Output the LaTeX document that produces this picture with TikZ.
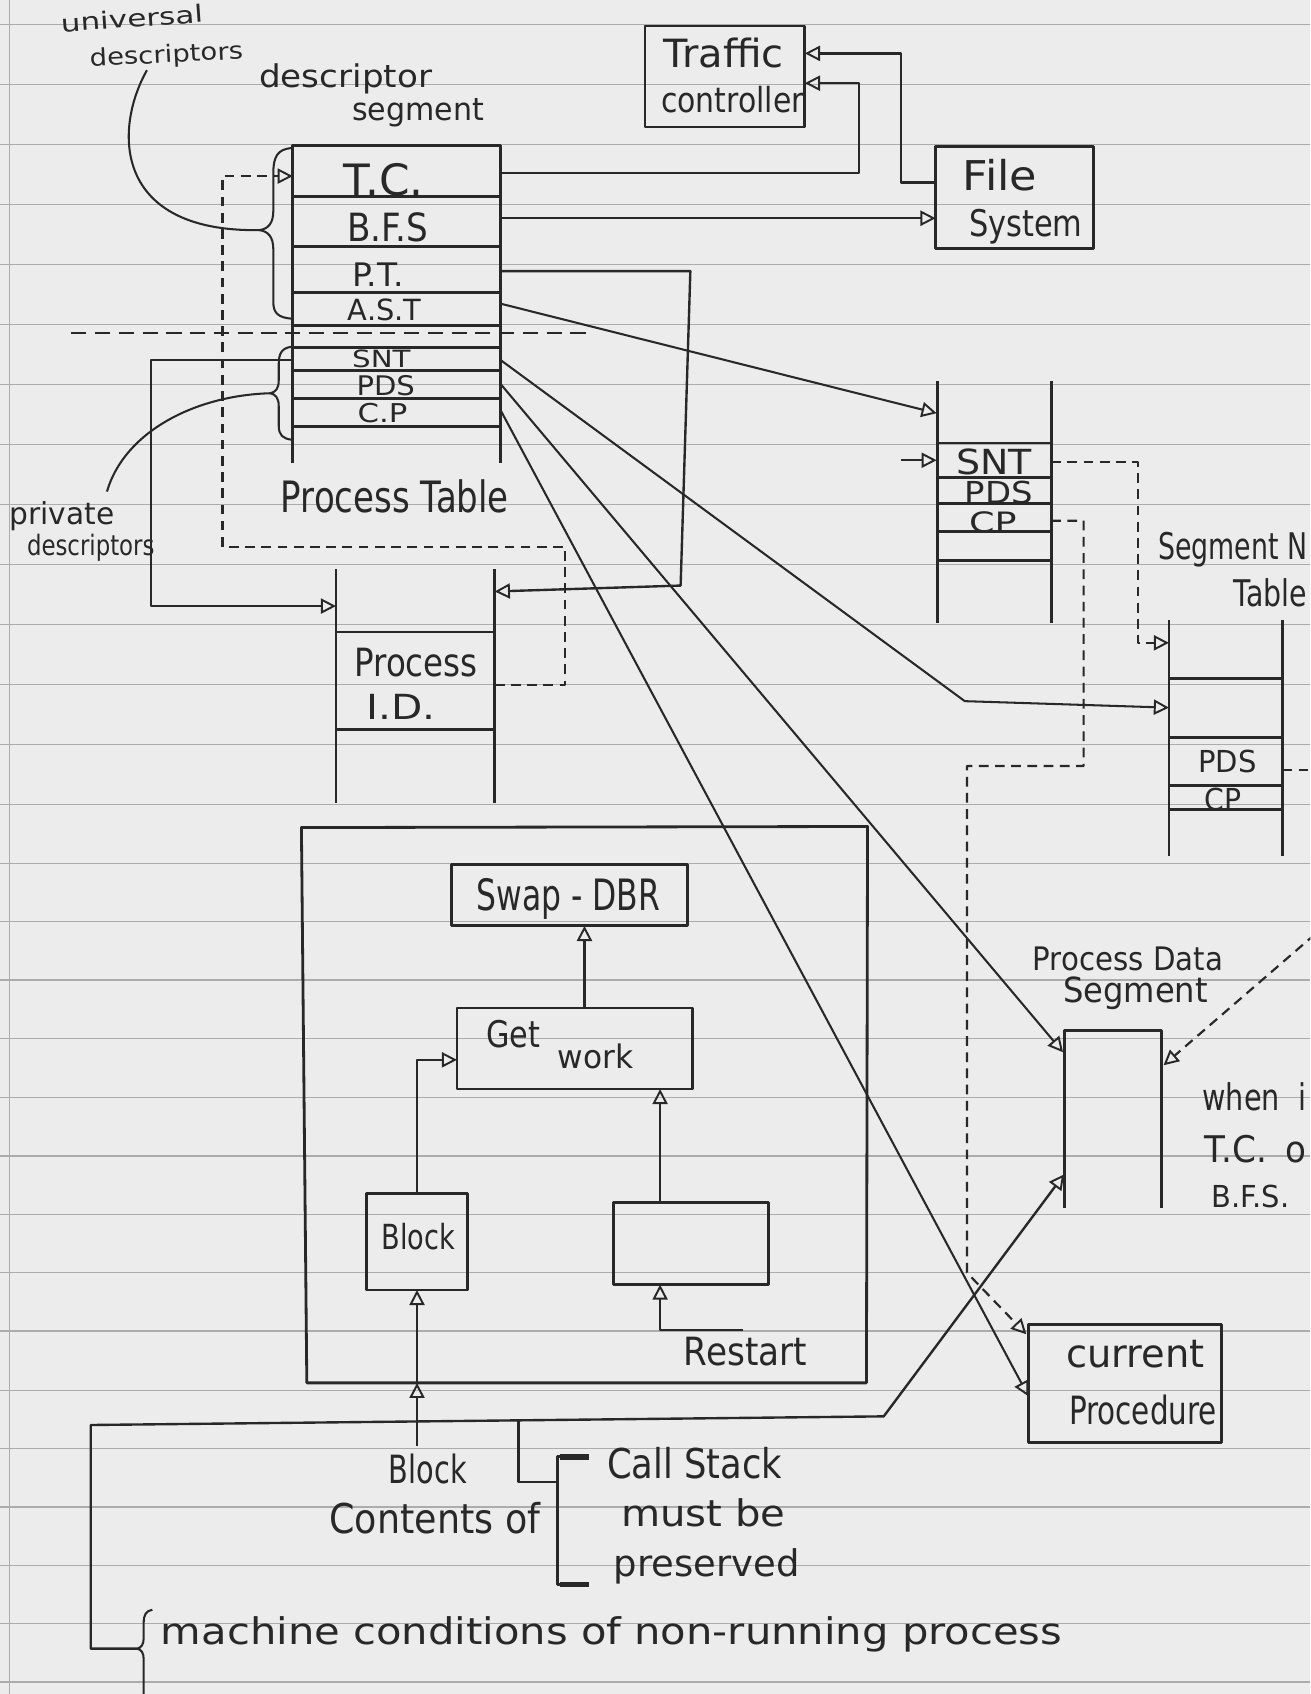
\documentclass[tikz,border=0pt]{standalone}
\usepackage{fontspec}
\setmainfont{DejaVu Sans}
\usepackage{graphicx}
\usetikzlibrary{arrows.meta}
\definecolor{paper}{RGB}{236,236,236}
\definecolor{inkc}{RGB}{40,40,40}
\definecolor{rulec}{RGB}{172,172,172}
\newcommand\hw[3]{\resizebox{#1pt}{\height}{\fontsize{#2pt}{#2pt}\selectfont #3}}
\begin{document}
\begin{tikzpicture}[x=0.5pt,y=-0.5pt,
  every node/.style={inner sep=0pt, outer sep=0pt, text=inkc},
  lw/.style={draw=inkc, line width=1.1pt},
  fine/.style={draw=inkc, line width=0.95pt},
  boxl/.style={draw=inkc, line width=1.3pt},
  dsh/.style={draw=inkc, line width=1pt, dash pattern=on 4.5pt off 3pt},
  arr/.style={-{Triangle[open,length=7pt,width=7pt,line width=0.9pt]}},
  rboxn/.style={draw=inkc, line width=1.3pt, rectangle, inner sep=0pt},
  rulel/.style={draw=rulec, line width=0.6pt},
  line join=round]

\fill[paper] (0,0) rectangle (1213,1568);
\useasboundingbox (0,0) rectangle (1213,1568);
\clip (0,0) rectangle (1213,1568);

% ruled notebook paper
\foreach \yy in {23,78.5,134,189.5,245,300.5,356,411.5,467,522.5,578,633.5,689,744.5,799,853,907,961,1016,1070,1124,1178,1232,1287,1341,1395,1449,1503,1557}
  \draw[rulel] (0,\yy) -- (1213,\yy);
\draw[rulel] (9,0) -- (9,1568);

% ---------- boxes (nodes) ----------
\node[rboxn, minimum width=74pt, minimum height=46.75pt] (tc) at (671,70.75) {};
\node[rboxn, minimum width=73pt, minimum height=47pt] (fs) at (939,182.7) {};
\node[rboxn, minimum width=109pt, minimum height=28.5pt] (swap) at (527,828.5) {};
\node[rboxn, minimum width=109pt, minimum height=37.5pt] (getw) at (532,970.5) {};
\node[rboxn, minimum width=46.5pt, minimum height=44.5pt] (blk) at (386,1149.5) {};
\node[rboxn, minimum width=71.5pt, minimum height=38pt] (emp) at (639.5,1151) {};
\node[rboxn, minimum width=89.5pt, minimum height=54.5pt] (cur) at (1041.5,1280.5) {};

% outer box round the scheduler
\draw[boxl] (279,766) -- (803,765) -- (802,1280) -- (284,1280) -- cycle;

% descriptor segment
\draw[boxl] (271,429) -- (271,135) -- (463,135) -- (463,429);
\foreach \yy in {182,228,271,301,322,343,369,395} \draw[boxl] (271,\yy) -- (463,\yy);

% process id table
\draw[boxl] (311,527) -- (311,743);
\draw[boxl] (458,527) -- (458,743);
\foreach \yy in {585,675} \draw[boxl] (311,\yy) -- (458,\yy);

% A.S.T. segment
\draw[boxl] (867.6,353) -- (867.6,576.6);
\draw[boxl] (973,353) -- (973,576.6);
\foreach \yy in {410,442,466,492,518.6} \draw[boxl] (867.6,\yy) -- (973,\yy);

% segment name table
\draw[boxl] (1082,574) -- (1082,792);
\draw[boxl] (1187,574) -- (1187,792);
\foreach \yy in {628,683,727,749} \draw[boxl] (1082,\yy) -- (1187,\yy);

% process data segment
\draw[boxl] (985,1118) -- (985,954) -- (1075,954) -- (1075,1118);

% ---------- named connection points ----------
\coordinate (dsTC) at (463,160);
\coordinate (tcIn2) at (745,77);
\coordinate (fsOut) at (866,169);
\coordinate (tcIn1) at (745,49.4);
\coordinate (dsBFS) at (463,202);
\coordinate (fsIn) at (866,202);
\coordinate (dsAST) at (463,281);
\coordinate (astIn) at (867,382.5);
\coordinate (dsSNT) at (463,333);
\coordinate (sntIn) at (1082,655);
\coordinate (dsPDS) at (463,355);
\coordinate (pdsIn) at (984,974);
\coordinate (dsCP) at (463,379);
\coordinate (curIn) at (952,1292.5);
\coordinate (dsPT) at (463,251);
\coordinate (pidR) at (458,547.5);
\coordinate (dsSNTl) at (271,333);
\coordinate (pidL) at (311,561);
\coordinate (pidR2) at (458,634);
\coordinate (dsTCl) at (271,163);
\coordinate (shortStart) at (834,426);
\coordinate (astSNT) at (867,426);
\coordinate (astSNTr) at (973,428);
\coordinate (snmIn) at (1082,595);
\coordinate (astCPr) at (973,482);
\coordinate (curIn2) at (950,1235);
\coordinate (snmPDS) at (1187,712.5);
\coordinate (offR) at (1240,712.5);
\coordinate (offTR) at (1240,845);
\coordinate (pdsInR) at (1077,986);
\coordinate (braceTip) at (127,1526);
\coordinate (pdsInL) at (985,1087);
\coordinate (csTop) at (480,1314.7);
\coordinate (brk) at (516,1372);
\coordinate (blkFoot) at (386,1338);
\coordinate (outerB) at (386,1280);
\coordinate (gwIn) at (423,981);
\coordinate (empTop) at (611,1113);
\coordinate (gwBot) at (611,1008);
\coordinate (gwTop) at (541,933);
\coordinate (swBot) at (541,857);
\coordinate (rsEnd) at (688,1231);
\coordinate (empBot) at (611,1189);
\coordinate (divA) at (66,308);
\coordinate (divB) at (545,308);

% ---------- connectors ----------
\draw[lw,arr] (dsTC) -- (795,160) -- (795,77) -- (tcIn2);
\draw[lw,arr] (fsOut) -- (834,169) -- (834,49.4) -- (tcIn1);
\draw[lw,arr] (dsBFS) -- (fsIn);
\draw[fine,arr] (dsAST) -- (astIn);
\draw[fine,arr] (dsSNT) -- (893,649) -- (sntIn);
\draw[fine,arr] (dsPDS) -- (pdsIn);
\draw[fine,arr] (dsCP) -- (curIn);
\draw[lw,arr] (dsPT) -- (639,251) -- (630,542) -- (pidR);
\draw[lw,arr] (dsSNTl) -- (140,333) -- (140,561) -- (pidL);
\draw[dsh,arr] (pidR2) -- (523,634) -- (523,506) -- (206,506) -- (206,163) -- (dsTCl);
\draw[dsh, dash pattern=on 7pt off 4pt] (divA) -- (divB);
\draw[lw,arr] (shortStart) -- (astSNT);
\draw[dsh,arr] (astSNTr) -- (1053,428) -- (1053,595) -- (snmIn);
\draw[dsh,arr] (astCPr) -- (1003,482) -- (1003,709) -- (895,709) -- (895,1178) -- (curIn2);
\draw[dsh] (snmPDS) -- (offR);
\draw[dsh,arr] (offTR) -- (pdsInR);
\draw[lw,arr] (braceTip) -- (84,1526) -- (84,1319) -- (818,1311) -- (pdsInL);
\draw[lw] (csTop) -- (480,1372) -- (brk);
\draw[draw=inkc, line width=1.3pt] (540,1348.5) -- (516,1348.5) -- (516,1466.5) -- (540,1466.5);
\draw[draw=inkc, line width=2.6pt] (518,1348.5) -- (545,1348.5);
\draw[draw=inkc, line width=2.6pt] (518,1466.5) -- (545,1466.5);
\draw[lw,arr] (blkFoot) -- (outerB);
\draw[lw,arr] (outerB) -- (blk.south);
\draw[lw,arr] (blk.north) -- (386,981) -- (gwIn);
\draw[lw,arr] (empTop) -- (gwBot);
\draw[lw,arr] (gwTop) -- (swBot);
\draw[lw,arr] (rsEnd) -- (611,1231) -- (empBot);

% braces and pointer curves
\draw[fine] (270,137) .. controls (257,138) and (253,145) .. (253,160) -- (253,195)
  .. controls (253,207) and (248,212) .. (240,213)
  .. controls (248,214) and (253,219) .. (253,231) -- (253,280)
  .. controls (253,290) and (258,294) .. (270,295);
\draw[fine] (270,321) .. controls (261,322) and (258,327) .. (258,337) -- (258,352)
  .. controls (258,360) and (255,363) .. (250,364)
  .. controls (255,365) and (258,368) .. (258,376) -- (258,394)
  .. controls (258,403) and (262,406) .. (270,407);
\draw[fine] (141,1490) .. controls (135,1491) and (133,1495) .. (133,1502) -- (133,1516)
  .. controls (133,1522) and (131,1525) .. (127,1526)
  .. controls (131,1527) and (133,1530) .. (133,1536) -- (133,1575);
\draw[fine] (136,65) .. controls (105,120) and (105,215) .. (240,213);
\draw[fine] (250,364) .. controls (180,366) and (115,400) .. (99,455);

% ---------- texts ----------
\node[rotate=4] (tUniv) at (122,17) {\hw{66}{11}{universal}};
\node[rotate=3] (tUdesc) at (154,52) {\hw{71}{11}{descriptors}};
\node (tDs1) at (320,73) {\hw{80}{14.5}{descriptor}};
\node (tDs2) at (387,104) {\hw{61}{14.5}{segment}};
\node (tTraffic) at (670,49) {\hw{55.5}{18}{Traffic}};
\node (tContr) at (678,92.5) {\hw{66}{16}{controller}};
\node (tFile) at (925.5,162) {\hw{34.5}{19}{File}};
\node (tSystem) at (949.5,210) {\hw{52.5}{17}{System}};
\node (rTC) at (355,166) {\hw{37}{20}{T.C.}};
\node (rBFS) at (359,210) {\hw{37.5}{18}{B.F.S}};
\node (rPT) at (350,254) {\hw{24}{15}{P.T.}};
\node (rAST) at (356,287) {\hw{34}{13.5}{A.S.T}};
\node (rSNT) at (353,332.5) {\hw{27}{11}{SNT}};
\node (rPDS) at (357,357) {\hw{27}{12.5}{PDS}};
\node (rCP) at (354,382.5) {\hw{23}{12}{C.P}};
\node (tPTab) at (365.5,459.5) {\hw{105.5}{20}{Process Table}};
\node (tProc) at (385,613.5) {\hw{57}{18}{Process}};
\node (tID) at (371,654) {\hw{32}{16}{I.D.}};
\node (tSwap) at (526,832) {\hw{85}{20}{Swap - DBR}};
\node (tGet) at (475,957) {\hw{25}{17}{Get}};
\node (tWork) at (551,978) {\hw{35}{15}{work}};
\node (tBlk) at (387,1144.5) {\hw{34}{16}{Block}};
\node (tRestart) at (690,1251) {\hw{57}{18}{Restart}};
\node (tBlk2) at (396,1360) {\hw{36}{18}{Block}};
\node (tCont) at (402.5,1405) {\hw{97.5}{19}{Contents of}};
\node (tCall) at (643,1354) {\hw{81}{19}{Call Stack}};
\node (tMust) at (651,1400) {\hw{76}{17}{must be}};
\node (tPres) at (654,1450) {\hw{86}{17}{preserved}};
\node (tMach) at (566,1513) {\hw{417}{17}{machine conditions of non-running process}};
\node (tPriv) at (57.5,478) {\hw{48.5}{14}{private}};
\node (tPdesc) at (84,507) {\hw{59}{13}{descriptors}};
\node[anchor=west] (tSegN) at (1072,509) {\hw{69}{17}{Segment N}};
\node[anchor=west] (tTable) at (1142,549) {\hw{34}{17}{Table}};
\node (tPDat) at (1044,888) {\hw{88}{15}{Process Data}};
\node (tPSeg) at (1051,919) {\hw{67}{16}{Segment}};
\node[anchor=west] (tWhen) at (1113,1015) {\hw{48}{17}{when~~i}};
\node[anchor=west] (tWTC) at (1115,1064) {\hw{47}{17}{T.C.\hspace{9pt}o}};
\node[anchor=west] (tWBFS) at (1121.5,1107.5) {\hw{36}{14}{B.F.S.}};
\node (sPDS) at (1136,705) {\hw{27}{14}{PDS}};
\node (sCP) at (1132,740) {\hw{17}{14}{CP}};
\node (aSNT) at (920,427.6) {\hw{35}{16}{SNT}};
\node (aPDS) at (924.5,456) {\hw{31.5}{14}{PDS}};
\node (aCP) at (919,483) {\hw{22}{13}{CP}};
\node (tCur) at (1051,1253) {\hw{64}{18}{current}};
\node (tProcd) at (1058,1305) {\hw{68.5}{18}{Procedure}};
\end{tikzpicture}
\end{document}
